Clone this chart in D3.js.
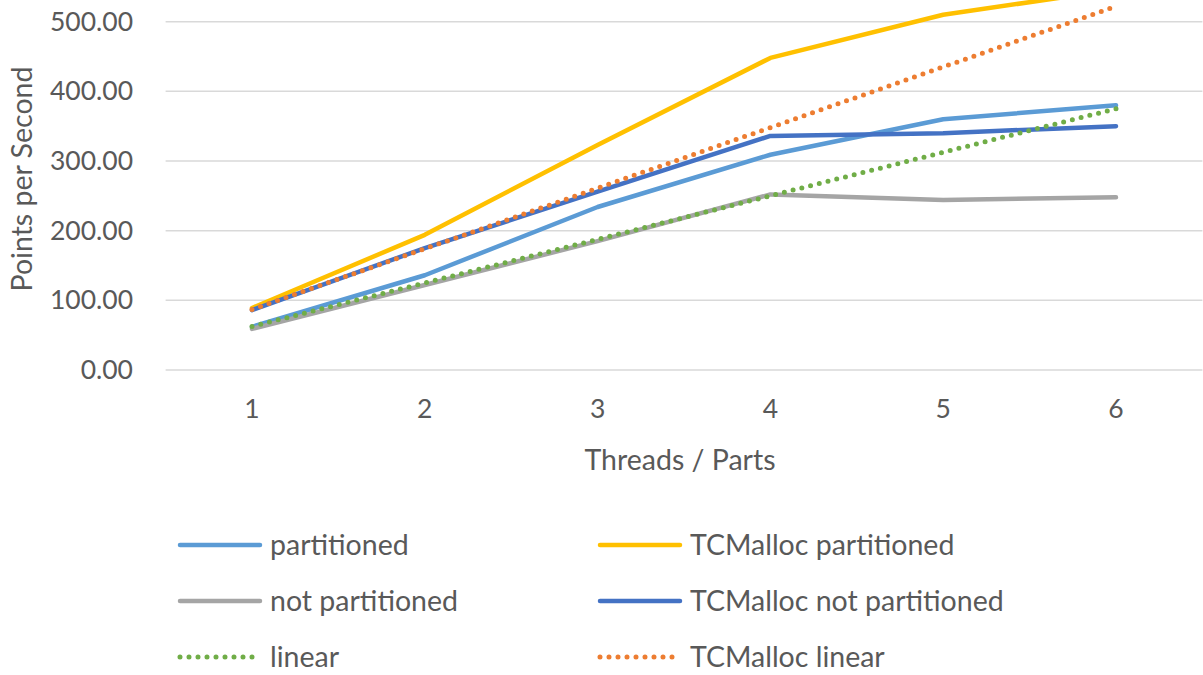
<!DOCTYPE html>
<html>
<head>
<meta charset="utf-8">
<script src="https://cdn.jsdelivr.net/npm/d3@7/dist/d3.min.js"></script>
<style>
  html, body { margin: 0; padding: 0; background: #fff; overflow: hidden; }
  svg { display: block; }
  text { font-family: Lato, "Liberation Sans", sans-serif; fill: #595959; }
</style>
</head>
<body>
<svg id="chart" width="1203" height="675"></svg>
<script>
// Threads / parts on the x axis
const threads = ["1", "2", "3", "4", "5", "6"];

// Throughput (points per second) per series
const partitioned          = [62, 136, 234, 309, 360, 380];
const tcmallocPartitioned  = [89, 194, 323, 448, 510, 546];
const notPartitioned       = [59, 122, 185, 252, 244, 248];
const tcmallocNotPart      = [86, 175, 256, 336, 340, 350];
const linear               = [62.5, 125, 187.5, 250, 312.5, 375];
const tcmallocLinear       = [87, 174, 261, 348, 435, 522];

const yTicks = [0, 100, 200, 300, 400, 500];

const series = [
  { name: "partitioned",             values: partitioned,         color: "#5B9BD5", dotted: false },
  { name: "TCMalloc partitioned",    values: tcmallocPartitioned, color: "#FFC000", dotted: false },
  { name: "not partitioned",         values: notPartitioned,      color: "#A5A5A5", dotted: false },
  { name: "TCMalloc not partitioned",values: tcmallocNotPart,     color: "#4472C4", dotted: false },
  { name: "linear",                  values: linear,              color: "#70AD47", dotted: true },
  { name: "TCMalloc linear",         values: tcmallocLinear,      color: "#ED7D31", dotted: true }
];

const svg = d3.select("#chart");
const labelFont = 28.5;
const tickFont = 26.5;

const x = d3.scaleBand().domain(threads).range([165.6, 1202.4]);
const xc = d => x(d) + x.bandwidth() / 2;
const y = d3.scaleLinear().domain([0, 600]).range([370, -48]);

// horizontal gridlines
svg.append("g")
  .selectAll("line")
  .data(yTicks)
  .join("line")
  .attr("x1", 165.6).attr("x2", 1202.4)
  .attr("y1", d => y(d)).attr("y2", d => y(d))
  .attr("stroke", "#D9D9D9").attr("stroke-width", 1.5);

// y axis labels
const yAxis = d3.axisLeft(y).tickValues(yTicks).tickFormat(d3.format(".2f")).tickSize(0).tickPadding(0);
const gy = svg.append("g").attr("transform", "translate(133,0)").call(yAxis);
gy.select(".domain").remove();
gy.selectAll("text").attr("font-size", tickFont).attr("fill", "#595959")
  .style("font-family", "Lato, 'Liberation Sans', sans-serif");

// x axis labels
const xAxis = d3.axisBottom(x).tickSize(0).tickPadding(0);
const gx = svg.append("g").attr("transform", "translate(0,399)").call(xAxis);
gx.select(".domain").remove();
gx.selectAll("text").attr("font-size", tickFont).attr("fill", "#595959")
  .style("font-family", "Lato, 'Liberation Sans', sans-serif");

// axis titles
svg.append("text")
  .attr("x", 680).attr("y", 470)
  .attr("text-anchor", "middle")
  .attr("font-size", labelFont)
  .text("Threads / Parts");

svg.append("text")
  .attr("transform", "translate(32,179) rotate(-90)")
  .attr("text-anchor", "middle")
  .attr("font-size", labelFont)
  .text("Points per Second");

// series lines
const line = d3.line().x((d, i) => xc(threads[i])).y(d => y(d));

svg.append("g")
  .selectAll("path")
  .data(series)
  .join("path")
  .attr("d", s => line(s.values))
  .attr("fill", "none")
  .attr("stroke", s => s.color)
  .attr("stroke-width", s => s.dotted ? 5 : 4.5)
  .attr("stroke-linecap", "round")
  .attr("stroke-linejoin", "round")
  .attr("stroke-dasharray", s => s.dotted ? "0 9" : null);

// legend: two columns, filled row by row
const legend = svg.append("g");
const colX = [178, 598];
const rowY = [545, 601, 657];
series.forEach((s, i) => {
  const lx = colX[i % 2];
  const ly = rowY[Math.floor(i / 2)];
  const g = legend.append("g");
  g.append("line")
    .attr("x1", lx + 2).attr("x2", lx + 82)
    .attr("y1", ly).attr("y2", ly)
    .attr("stroke", s.color)
    .attr("stroke-width", s.dotted ? 5 : 4.5)
    .attr("stroke-linecap", "round")
    .attr("stroke-dasharray", s.dotted ? "0 9" : null);
  g.append("text")
    .attr("x", lx + 92).attr("y", ly)
    .attr("dy", "0.35em")
    .attr("font-size", labelFont)
    .text(s.name);
});
</script>
</body>
</html>
